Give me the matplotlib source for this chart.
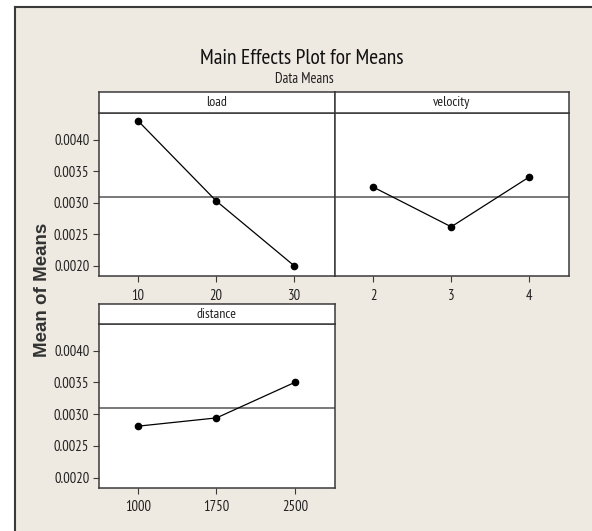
import matplotlib
matplotlib.use("Agg")
import matplotlib.pyplot as plt
from matplotlib.lines import Line2D
from matplotlib.patches import Rectangle

# ---- data ----
load_levels = [10, 20, 30]
load_means = [0.00430, 0.00303, 0.00200]
velocity_levels = [2, 3, 4]
velocity_means = [0.00325, 0.00262, 0.00341]
distance_levels = [1000, 1750, 2500]
distance_means = [0.00281, 0.00294, 0.00350]
grand_mean = 0.00309
y_ticks = [0.0020, 0.0025, 0.0030, 0.0035, 0.0040]
y_tick_labels = ["0.0020", "0.0025", "0.0030", "0.0035", "0.0040"]
factor_names = ["load", "velocity", "distance"]
title = "Main Effects Plot for Means"
subtitle = "Data Means"
ylabel = "Mean of Means"

W, H = 592, 531
fig = plt.figure(figsize=(W / 100, H / 100), dpi=100)
fig.patch.set_facecolor("white")

BG = "#eee9e1"
DARK = "#3a3a3a"
NARROW = ["PT Sans Narrow", "Archivo Narrow", "Roboto Condensed", "DejaVu Sans"]

# beige background with frame (top/left lines)
fig.add_artist(Rectangle((15 / W, 0), 1, 1 - 7 / H, transform=fig.transFigure,
                         facecolor=BG, edgecolor="none", zorder=-10))
fig.add_artist(Line2D([15 / W, 1], [1 - 7 / H, 1 - 7 / H], transform=fig.transFigure,
                      color=DARK, lw=1.5))
fig.add_artist(Line2D([15 / W, 15 / W], [0, 1 - 7 / H], transform=fig.transFigure,
                      color=DARK, lw=1.5))


def px_rect(x0, x1, y_top, y_bot):
    return [x0 / W, 1 - y_bot / H, (x1 - x0) / W, (y_bot - y_top) / H]


ylim = (0.00184, 0.00442)

panels = [
    (load_levels, load_means, factor_names[0], (99, 335, 113.3, 276), 92, (5, 35.2), True),
    (velocity_levels, velocity_means, factor_names[1], (335, 569, 113.3, 276), 92, (1.51, 4.51), False),
    (distance_levels, distance_means, factor_names[2], (99, 334.5, 324, 487.7), 304, (625, 2880), True),
]

for levels, means, name, (x0, x1, yt, yb), strip_top, xlim, show_y in panels:
    ax = fig.add_axes(px_rect(x0, x1, yt, yb))
    ax.set_facecolor("white")
    ax.axhline(grand_mean, color="#555555", lw=1.1, zorder=1)
    ax.plot(levels, means, color="black", lw=0.9, marker="o", markersize=4.5, zorder=3)
    ax.set_xlim(*xlim)
    ax.set_ylim(*ylim)
    ax.set_xticks(levels)
    ax.set_xticklabels([str(v) for v in levels], family=NARROW, fontsize=10.5, color="#222222")
    ax.tick_params(axis="x", direction="out", length=4, width=0.8, color=DARK, pad=5)
    if show_y:
        ax.set_yticks(y_ticks)
        ax.set_yticklabels(y_tick_labels, family=NARROW, fontsize=10.5, color="#222222")
        ax.tick_params(axis="y", direction="out", length=4, width=0.8, color=DARK, pad=3)
    else:
        ax.set_yticks([])
    for s in ax.spines.values():
        s.set_color(DARK)
        s.set_linewidth(1.1)
    # strip
    sax = fig.add_axes(px_rect(x0, x1, strip_top, yt))
    sax.set_facecolor("white")
    sax.set_xticks([])
    sax.set_yticks([])
    for s in sax.spines.values():
        s.set_color(DARK)
        s.set_linewidth(1.1)
    sax.text(0.5, 0.5, name, ha="center", va="center", family=NARROW,
             fontsize=10, color="#222222", transform=sax.transAxes)

fig.text(302 / W, 1 - 59 / H, title, ha="center", va="center", family=NARROW,
         fontsize=15.5, color="#111111")
fig.text(304 / W, 1 - 79 / H, subtitle, ha="center", va="center", family=NARROW,
         fontsize=10.5, color="#222222")
fig.text(43 / W, 1 - 290 / H, ylabel, ha="center", va="center", rotation=90,
         family=["Liberation Sans", "DejaVu Sans"], fontweight="bold",
         fontsize=13.5, color="#333333")

fig.savefig("out.png", dpi=100, facecolor=fig.get_facecolor())
